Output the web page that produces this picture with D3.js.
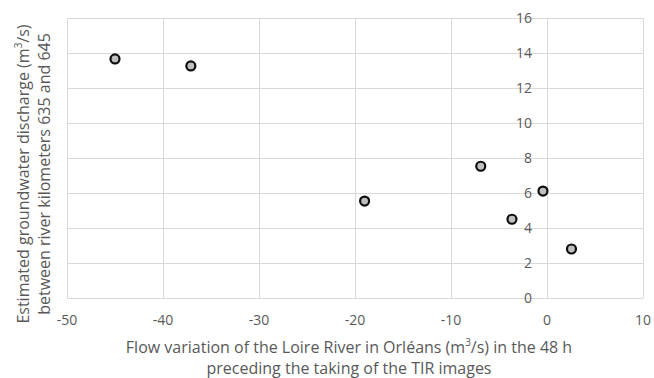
<!DOCTYPE html>
<html>
<head>
<meta charset="utf-8">
<script src="https://cdn.jsdelivr.net/npm/d3@7"></script>
<style>
  body { margin: 0; background: #fff; }
  svg { display: block; font-family: "Open Sans", sans-serif; }
</style>
</head>
<body>
<div id="chart"></div>
<script>
// values
const flowVariation = [-45.0, -37.1, -19.0, -6.9, -3.65, -0.42, 2.55];
const groundwater   = [13.66, 13.26, 5.54, 7.53, 4.5, 6.11, 2.8];
const xTicks = [-50, -40, -30, -20, -10, 0, 10];
const yTicks = [0, 2, 4, 6, 8, 10, 12, 14, 16];

const width = 654, height = 378;
const margin = { top: 18, right: 11, bottom: 80, left: 67 };

const svg = d3.select("#chart").append("svg")
  .attr("width", width)
  .attr("height", height);

const x = d3.scaleLinear().domain([-50, 10]).range([margin.left, width - margin.right]);
const y = d3.scaleLinear().domain([0, 16]).range([height - margin.bottom, margin.top]);

const grid = svg.append("g").attr("stroke", "#d9d9d9").attr("stroke-width", 1);

grid.selectAll(".v").data(xTicks).join("line")
  .attr("x1", d => Math.round(x(d)) + 0.5).attr("x2", d => Math.round(x(d)) + 0.5)
  .attr("y1", y(16)).attr("y2", y(0));

grid.selectAll(".h").data(yTicks).join("line")
  .attr("x1", x(-50)).attr("x2", x(10))
  .attr("y1", d => Math.round(y(d)) + 0.5).attr("y2", d => Math.round(y(d)) + 0.5);

// x axis labels
svg.append("g")
  .attr("font-size", 14).attr("fill", "#595959").attr("text-anchor", "middle")
  .selectAll("text").data(xTicks).join("text")
  .attr("x", d => x(d))
  .attr("y", y(0) + 27)
  .text(d => d);

// y axis labels, sitting at x = 0
svg.append("g")
  .attr("font-size", 14).attr("fill", "#595959").attr("text-anchor", "end")
  .selectAll("text").data(yTicks).join("text")
  .attr("x", x(0) - 15)
  .attr("y", d => y(d))
  .attr("dy", "0.35em")
  .text(d => d);

// points
svg.append("g")
  .selectAll("circle").data(flowVariation).join("circle")
  .attr("cx", d => x(d))
  .attr("cy", (d, i) => y(groundwater[i]))
  .attr("r", 4.5)
  .attr("fill", "#bfbfbf")
  .attr("stroke", "#0d0d0d")
  .attr("stroke-width", 2.2);

// axis titles
const xt = svg.append("text")
  .attr("font-size", 16).attr("fill", "#595959").attr("text-anchor", "middle");
xt.append("tspan").attr("x", 349).attr("y", 353)
  .text("Flow variation of the Loire River in Orléans (m")
  .append("tspan").attr("baseline-shift", "super").attr("font-size", 10).text("3");
xt.append("tspan").text("/s) in the 48 h");
xt.append("tspan").attr("x", 349).attr("y", 374)
  .text("preceding the taking of the TIR images");

const yt = svg.append("text")
  .attr("font-size", 16).attr("fill", "#595959").attr("text-anchor", "middle")
  .attr("transform", "translate(0,174) rotate(-90)");
yt.append("tspan").attr("x", 0).attr("y", 29)
  .text("Estimated groundwater discharge (m")
  .append("tspan").attr("baseline-shift", "super").attr("font-size", 10).text("3");
yt.append("tspan").text("/s)");
yt.append("tspan").attr("x", 0).attr("y", 50)
  .text("between river kilometers 635 and 645");
</script>
</body>
</html>
